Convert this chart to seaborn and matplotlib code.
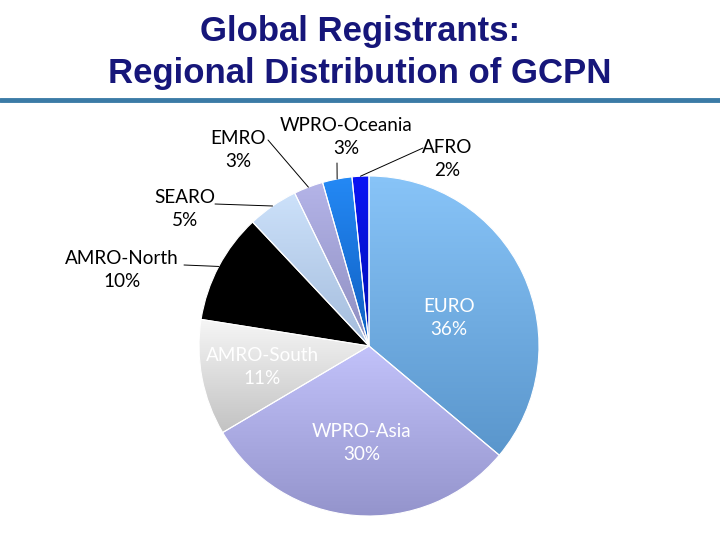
import matplotlib.pyplot as plt
import numpy as np
import seaborn as sns

# Data (clockwise from 12 o'clock)
regions = ['EURO', 'WPRO-Asia', 'AMRO-South', 'AMRO-North', 'SEARO', 'EMRO', 'WPRO-Oceania', 'AFRO']
shares = [36.1, 30.4, 11.0, 10.5, 4.8, 2.8, 2.8, 1.6]
pct_labels = ['36%', '30%', '11%', '10%', '5%', '3%', '3%', '2%']

# gradient colours per slice (top -> bottom)
top_colors = ['#88C4F8', '#C2C2FA', '#F6F6F6', '#000000', '#CCE1FA', '#B4B4E8', '#2489F5', '#0A14F5']
bottom_colors = ['#5A96CC', '#9494CC', '#C2C2C2', '#000000', '#A4BCDC', '#8E8EC0', '#0F5EC0', '#0010B0']

# label layout (pixel positions of text blocks, y downwards)
label_pos = [(449, 318), (362, 443), (262, 367), (122, 270), (185, 209), (238, 150), (346, 137), (447, 159)]
label_color = ['white', 'white', 'white', 'black', 'black', 'black', 'black', 'black']
leader_from = [None, None, None, (184, 265), (215, 204), (268, 140), (337, 163), (423, 148)]

sns.set_style('white')
plt.rcParams['font.family'] = ['Lato', 'DejaVu Sans']

fig = plt.figure(figsize=(7.2, 5.4), dpi=100)
ax = fig.add_axes([0, 0, 1, 1])

center = (369, 346)
radius = 170
wedges, _ = ax.pie(shares, center=center, radius=radius, startangle=-90, counterclock=True,
                   wedgeprops=dict(facecolor='none', edgecolor='white', linewidth=0.8),
                   frame=True)

# vertical gradient inside each slice
for w, c_top, c_bot in zip(wedges, top_colors, bottom_colors):
    bb = w.get_path().get_extents()
    cmap = sns.blend_palette([c_top, c_bot], n_colors=256, as_cmap=True)
    grad = np.linspace(0, 1, 256).reshape(-1, 1)
    im = ax.imshow(grad, cmap=cmap, extent=(bb.x0, bb.x1, bb.y1, bb.y0), origin='upper',
                   aspect='auto', zorder=0.5, interpolation='bilinear')
    im.set_clip_path(w)

# labels + leader lines
for i, w in enumerate(wedges):
    x, y = label_pos[i]
    ax.text(x, y, f'{regions[i]}\n{pct_labels[i]}', ha='center', va='center',
            fontsize=13.6, color=label_color[i], linespacing=1.4)
    if leader_from[i] is not None:
        mid = np.deg2rad((w.theta1 + w.theta2) / 2)
        rx = center[0] + radius * np.cos(mid)
        ry = center[1] + radius * np.sin(mid)
        ax.plot([leader_from[i][0], rx], [leader_from[i][1], ry], color='black', lw=0.7)

# title + rule
ax.text(360, 31, 'Global Registrants:', ha='center', va='center', fontsize=25,
        fontweight='bold', color='#16167A', family='Liberation Sans')
ax.text(360, 73, 'Regional Distribution of GCPN', ha='center', va='center', fontsize=25,
        fontweight='bold', color='#16167A', family='Liberation Sans')
ax.axhline(100, color='#3B7BA6', lw=3.5)

ax.set_xlim(0, 720)
ax.set_ylim(540, 0)
ax.set_aspect('equal')
ax.axis('off')

fig.savefig('out.png', dpi=100)
